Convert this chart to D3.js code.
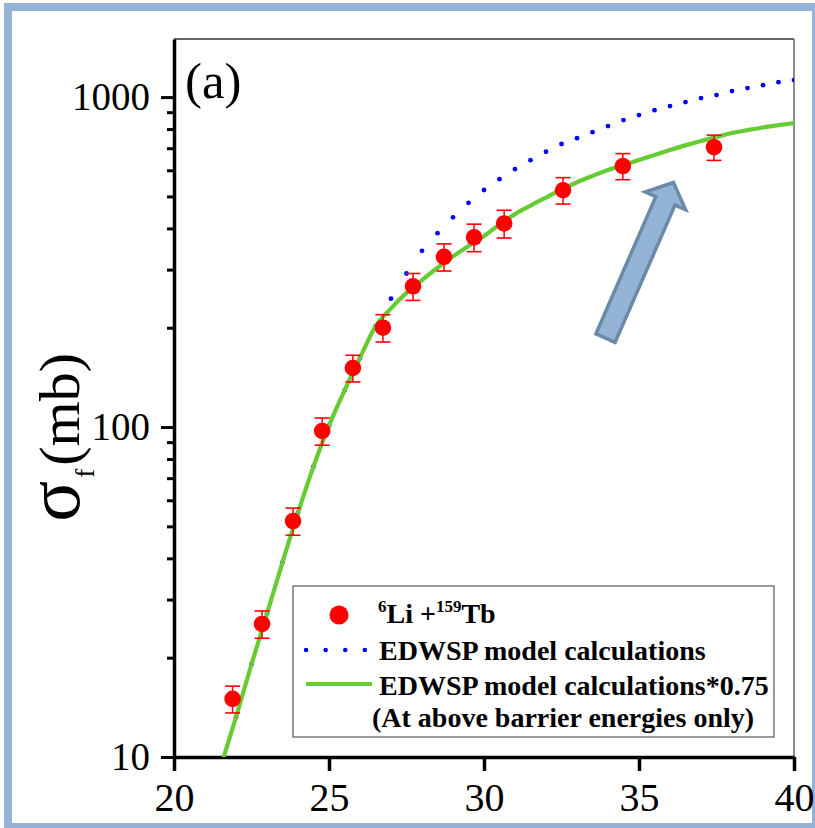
<!DOCTYPE html>
<html><head><meta charset="utf-8">
<script src="https://cdn.jsdelivr.net/npm/d3@7"></script>
<style>body{margin:0;background:#fff}svg{display:block}</style>
</head><body>
<svg id="c" width="815" height="828"></svg>
<script>
// Experimental data: 6Li + 159Tb fission cross sections
const expEnergy = [21.89, 22.84, 23.84, 24.78, 25.77, 26.74, 27.71, 28.71, 29.68, 30.65, 32.55, 34.48, 37.42];
const expSigma  = [15.0, 25.3, 51.9, 97.3, 151, 200, 267, 328, 376, 414, 522, 618, 705];
const expError  = [1.4, 2.4, 4.9, 9.2, 14, 19, 25, 31, 36, 40, 48, 56, 62];

// EDWSP model calculations
const modelEnergy = [21.5, 22, 22.5, 23, 23.5, 24, 24.5, 25, 25.5, 26, 26.5, 27, 27.5, 28, 28.5, 29, 29.5, 30,
  30.5, 31, 31.5, 32, 32.5, 33, 33.5, 34, 34.5, 35, 35.5, 36, 36.5, 37, 37.5, 38, 38.5, 39, 39.5, 40];
const edwspSigma = [9.3, 13.2, 19.1, 27.2, 38.9, 55.0, 75.9, 101, 129, 162, 202, 245, 292, 342, 387, 432, 478, 523,
  564, 605, 644, 683, 721, 751, 783, 817, 852, 882, 913, 939, 966, 993, 1014, 1043, 1065, 1087, 1110, 1126];
// EDWSP model calculations * 0.75 (above barrier only)
const scaledSigma = [9.3, 13.2, 19.1, 27.2, 38.9, 55.0, 75.9, 101, 129, 162, 202, 229, 255, 279, 304, 329, 354, 379,
  411, 442, 469, 496, 524, 552, 577, 601, 623, 645, 668, 691, 714, 736, 757, 778, 794, 809, 822, 834];

const xTicks = [20, 25, 30, 35, 40];
const yTicks = [10, 100, 1000];
const yMinor = [20,30,40,50,60,70,80,90,200,300,400,500,600,700,800,900];

const legendLabels = ["EDWSP model calculations", "EDWSP model calculations*0.75", "(At above barrier energies only)"];
const arrowTail = [33.92, 186];
const arrowTip = [36.11, 551];

const svg = d3.select("#c");
const serif = "'Liberation Serif','Times New Roman',serif";

// outer frame
svg.append("rect").attr("x", 8).attr("y", 7).attr("width", 808).attr("height", 820)
  .attr("fill", "none").attr("stroke", "#95b3d7").attr("stroke-width", 8);

const L = 174, R = 794, T = 39, B = 757;
const x = d3.scaleLinear().domain([20, 40]).range([L, R]);
const y = d3.scaleLog().domain([10, 1500]).range([B, T]);

svg.append("defs").append("clipPath").attr("id", "clip")
  .append("rect").attr("x", L).attr("y", T).attr("width", R - L).attr("height", B - T);

// top/right frame
svg.append("line").attr("x1", L).attr("x2", R).attr("y1", T).attr("y2", T).attr("stroke", "#333").attr("stroke-width", 1.5);
svg.append("line").attr("x1", R).attr("x2", R).attr("y1", T).attr("y2", B).attr("stroke", "#666").attr("stroke-width", 1.5);

// left axis
const gy = svg.append("g").attr("transform", `translate(${L},0)`)
  .call(d3.axisLeft(y).tickValues(yTicks).tickFormat(d3.format("d")).tickSize(13).tickSizeOuter(0));
gy.attr("font-family", serif);
gy.select(".domain").attr("stroke-width", 3.5).attr("stroke", "#000");
gy.selectAll(".tick line").attr("stroke-width", 3).attr("stroke", "#000");
gy.selectAll(".tick text").attr("x", -24).attr("dy", "0.33em").attr("font-family", serif).attr("font-size", 39).attr("fill", "#000");
const gym = svg.append("g").attr("transform", `translate(${L},0)`)
  .call(d3.axisLeft(y).tickValues(yMinor).tickFormat("").tickSize(7).tickSizeOuter(0));
gym.select(".domain").remove();
gym.selectAll(".tick line").attr("stroke-width", 3).attr("stroke", "#000");

// bottom axis
const gx = svg.append("g").attr("transform", `translate(0,${B})`)
  .call(d3.axisBottom(x).tickValues(xTicks).tickSize(14).tickSizeOuter(0));
gx.attr("font-family", serif);
gx.select(".domain").attr("stroke-width", 3.5).attr("stroke", "#000");
gx.selectAll(".tick line").attr("stroke-width", 3.5).attr("stroke", "#000");
gx.selectAll(".tick text").attr("y", 54).attr("dy", 0).attr("font-family", serif).attr("font-size", 40).attr("fill", "#000");

// y label
const yl = svg.append("text").attr("transform", "translate(79,353) rotate(-90)")
  .attr("text-anchor", "end").attr("font-family", serif).attr("font-size", 58).attr("fill", "#000");
yl.append("tspan").attr("font-size", 76).text("σ");
yl.append("tspan").attr("font-size", 27).attr("dy", 15).attr("dx", 3).text("f");
yl.append("tspan").attr("dy", -15).attr("dx", 3).text("(mb)");

// panel label
svg.append("text").attr("x", 185).attr("y", 98).attr("font-family", serif).attr("font-size", 51).text("(a)");

const plot = svg.append("g").attr("clip-path", "url(#clip)");
const modelPts = modelEnergy.map((e, i) => [e, edwspSigma[i]]);
const scaledPts = modelEnergy.map((e, i) => [e, scaledSigma[i]]);

// blue dotted EDWSP
plot.selectAll("circle.edwsp").data(modelPts).join("circle").attr("class", "edwsp")
  .attr("cx", d => x(d[0])).attr("cy", d => y(d[1])).attr("r", 2.4).attr("fill", "#0000ff");

// green scaled line
const line = d3.line().x(d => x(d[0])).y(d => y(d[1])).curve(d3.curveMonotoneX);
plot.append("path").datum(scaledPts).attr("d", line).attr("fill", "none")
  .attr("stroke", "#66cc33").attr("stroke-width", 4.2);

// experimental points with error bars
const eg = svg.append("g");
expEnergy.forEach((e, i) => {
  const cx = x(e), y1 = y(expSigma[i] + expError[i]), y2 = y(expSigma[i] - expError[i]);
  eg.append("line").attr("x1", cx).attr("x2", cx).attr("y1", y1).attr("y2", y2).attr("stroke", "#ff0000").attr("stroke-width", 1.5);
  [y1, y2].forEach(yy => eg.append("line").attr("x1", cx - 7.5).attr("x2", cx + 7.5).attr("y1", yy).attr("y2", yy)
    .attr("stroke", "#ff0000").attr("stroke-width", 1.6));
  eg.append("circle").attr("cx", cx).attr("cy", y(expSigma[i])).attr("r", 8.3).attr("fill", "#ff0000");
});

// arrow annotation
(function () {
  const t = [x(arrowTail[0]), y(arrowTail[1])], p = [x(arrowTip[0]), y(arrowTip[1])];
  const len = Math.hypot(p[0] - t[0], p[1] - t[1]);
  const d = [(p[0] - t[0]) / len, (p[1] - t[1]) / len], n = [-d[1], d[0]];
  const hl = 20, sw = 21, hw = 44;
  const b = [p[0] - d[0] * hl, p[1] - d[1] * hl];
  const pt = (o, k) => [o[0] + n[0] * k, o[1] + n[1] * k];
  const poly = [pt(t, sw / 2), pt(b, sw / 2), pt(b, hw / 2), p, pt(b, -hw / 2), pt(b, -sw / 2), pt(t, -sw / 2)];
  svg.append("polygon").attr("points", poly.map(q => q.join(",")).join(" "))
    .attr("fill", "#94b4d5").attr("stroke", "#6b8aa8").attr("stroke-width", 3.5).attr("stroke-linejoin", "miter");
})();

// legend
const lg = svg.append("g");
lg.append("rect").attr("x", 293).attr("y", 586).attr("width", 481).attr("height", 151)
  .attr("fill", "#fff").attr("stroke", "#555").attr("stroke-width", 1.2);
lg.append("circle").attr("cx", 339).attr("cy", 615).attr("r", 9.5).attr("fill", "#ff0000");
lg.append("line").attr("x1", 306).attr("x2", 366).attr("y1", 650).attr("y2", 650)
  .attr("stroke", "#0000ff").attr("stroke-width", 4.4).attr("stroke-linecap", "round").attr("stroke-dasharray", "0.1 19.5");
lg.append("line").attr("x1", 306).attr("x2", 372).attr("y1", 684).attr("y2", 684)
  .attr("stroke", "#66cc33").attr("stroke-width", 4.2);
const t1 = lg.append("text").attr("x", 378).attr("y", 623).attr("font-family", serif).attr("font-weight", "bold").attr("font-size", 28);
t1.append("tspan").attr("font-size", 17).attr("dy", -11).text("6");
t1.append("tspan").attr("dy", 11).text("Li +");
t1.append("tspan").attr("font-size", 17).attr("dy", -11).text("159");
t1.append("tspan").attr("dy", 11).text("Tb");
[[379, 660], [379, 695], [372, 727]].forEach((pos, i) => {
  lg.append("text").attr("x", pos[0]).attr("y", pos[1]).attr("font-family", serif).attr("font-weight", "bold")
    .attr("font-size", 28).text(legendLabels[i]);
});
</script>
</body></html>
